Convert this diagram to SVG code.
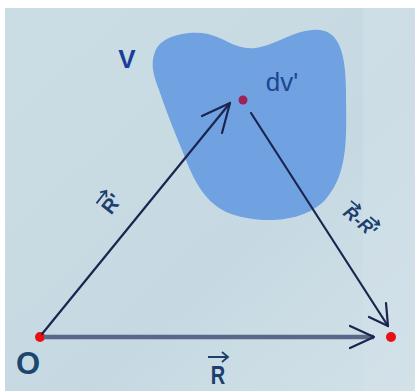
<svg xmlns="http://www.w3.org/2000/svg" width="415" height="391" viewBox="0 0 415 391">
<defs>
<style>
.lbl{font-family:"Liberation Sans",Arial,sans-serif;fill:#1d3f6e;font-weight:bold}
.vec{stroke:#1a2550;stroke-width:2.2;fill:none;stroke-linecap:round}
.ah{stroke:#1a2550;stroke-width:2.2;fill:none;stroke-linecap:round;stroke-linejoin:round}
.tick{stroke:#1d3f6e;stroke-width:1.8;fill:none}
</style>
<linearGradient id="bg" x1="0" y1="0" x2="1" y2="1">
<stop offset="0" stop-color="#cbdde4"/>
<stop offset="0.6" stop-color="#c6d9e2"/>
<stop offset="1" stop-color="#d2e1e8"/>
</linearGradient>
</defs>
<rect x="0" y="0" width="415" height="391" fill="#ffffff"/>
<rect x="5" y="8" width="410" height="383" fill="url(#bg)"/>
<rect x="363" y="8" width="52" height="383" fill="#d3e2e9" opacity="0.5"/>
<g id="volume">
<path d="M155,52 C160,36 188,30 208,34 C225,38 236,50 255,48 C276,46 296,28 320,30 C342,32 346,62 346,92 C346,132 350,172 325,200 C300,226 252,223 226,212 C202,200 192,176 182,150 C172,126 166,110 159,90 C152,72 151,62 155,52 Z" fill="#70a2e2"/>
<text class="lbl" x="127" y="68" font-size="26" text-anchor="middle" style="fill:#1a3e9e">V</text>
</g>
<g id="source">
<circle cx="243" cy="100" r="4.5" fill="#a0205a"/>
<text class="lbl" x="282" y="91" font-size="26" text-anchor="middle" style="fill:#1d4590;font-weight:normal">dv'</text>
</g>
<g id="origin">
<circle cx="40" cy="337" r="5" fill="#e81010"/>
<text class="lbl" x="28" y="374" font-size="31" text-anchor="middle" style="fill:#1b4670">O</text>
</g>
<g id="field">
<circle cx="391" cy="337" r="5" fill="#e81010"/>
</g>
<g id="connectors">
<line x1="44" y1="337" x2="374" y2="337" stroke="#5c6688" stroke-width="4.5"/>
<path class="ah" d="M350,326 L374,337 L350,348" stroke-width="2.5"/>
<line class="vec" x1="42" y1="334" x2="230" y2="103"/>
<path class="ah" d="M202,116 L230,103 L222,133"/>
<line class="vec" x1="251" y1="113" x2="388" y2="326"/>
<path class="ah" d="M369,317 L388,326 L386,303"/>
</g>
<g id="labels">
<g transform="translate(218,384)">
<text class="lbl" x="0" y="0" font-size="25" text-anchor="middle" transform="scale(0.8,1)">R</text>
<path class="tick" d="M-10,-27 L10,-27 M4,-32 L10,-27 L4,-22"/>
</g>
<g transform="translate(117,208) rotate(-52)">
<text class="lbl" x="0" y="0" font-size="20" text-anchor="middle">R'</text>
<path class="tick" d="M-9,-19 L7,-19 M2,-23 L7,-19 L2,-15"/>
</g>
<g transform="translate(356,226) rotate(40)">
<text class="lbl" x="0" y="0" font-size="18" text-anchor="middle" font-style="italic">R-R'</text>
<path class="tick" d="M-20,-16 L-8,-16 M-12,-19 L-8,-16 L-12,-13 M5,-16 L17,-16 M13,-19 L17,-16 L13,-13"/>
</g>
</g>
</svg>
